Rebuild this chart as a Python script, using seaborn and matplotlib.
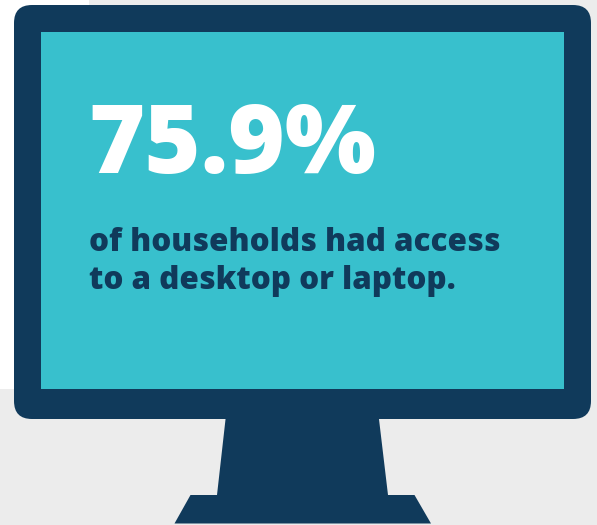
import matplotlib.pyplot as plt
from matplotlib.patches import FancyBboxPatch, Polygon, Rectangle
import seaborn as sns

# ==================================================
# CONTENT
# ==================================================

headline_value = "75.9%"
caption_lines = ["of households had access", "to a desktop or laptop."]

NAVY = "#103A5B"
TEAL = "#38C0CD"
GREY = "#ECECEC"

# ==================================================
# CANVAS (axes in pixels, y pointing down)
# ==================================================

sns.set_theme(style="white")
plt.rcParams["font.family"] = ["Open Sans", "DejaVu Sans"]

fig = plt.figure(figsize=(5.97, 5.25), dpi=100, facecolor=GREY)
ax = fig.add_axes([0, 0, 1, 1])
ax.set_xlim(0, 597)
ax.set_ylim(525, 0)
ax.set_facecolor(GREY)
ax.set_xticks([])
ax.set_yticks([])
sns.despine(ax=ax, left=True, bottom=True)

# white corner of the page behind the monitor
ax.add_patch(Rectangle((0, 0), 89, 388.5, fc="white", ec="none"))

# stand and base
ax.add_patch(Polygon(
    [(226, 415), (378.5, 415), (388, 495), (414.5, 495), (431, 523.5),
     (174.5, 523.5), (190.5, 495), (217, 495)],
    closed=True, fc=NAVY, ec="none"
))

# monitor body
ax.add_patch(FancyBboxPatch(
    (14 + 18, 5 + 18), 577 - 36, 414 - 36,
    boxstyle="round,pad=18,rounding_size=18",
    fc=NAVY, ec="none"
))

# screen
ax.add_patch(Rectangle((41, 32), 523, 357, fc=TEAL, ec="none"))

# ==================================================
# TEXT
# ==================================================

ax.text(
    88, 173, headline_value,
    color="white", fontsize=69.2, fontweight=800, va="baseline"
)

ax.text(
    89, 251, caption_lines[0],
    color=NAVY, fontsize=22.6, fontweight=800, va="baseline"
)

ax.text(
    89, 289, caption_lines[1],
    color=NAVY, fontsize=22.6, fontweight=800, va="baseline"
)

fig.savefig("out.png", dpi=100, facecolor=GREY)
plt.close(fig)
